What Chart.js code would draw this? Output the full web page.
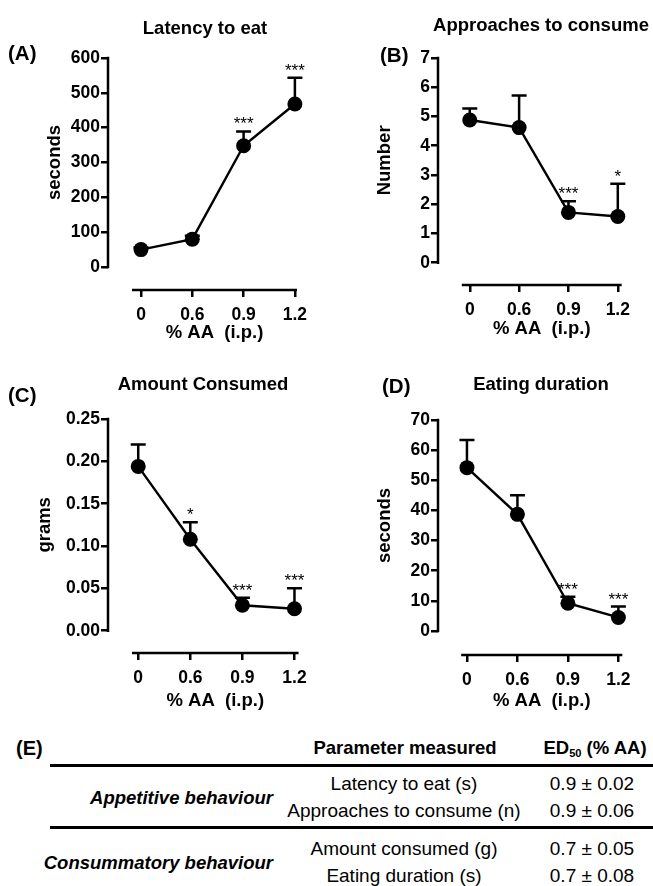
<!DOCTYPE html>
<html><head><meta charset="utf-8">
<script src="https://cdn.jsdelivr.net/npm/chart.js@4.4.1/dist/chart.umd.min.js"></script>
<style>
html,body{margin:0;padding:0;background:#fff;}
body{width:653px;height:886px;position:relative;overflow:hidden;font-family:"Liberation Sans",Arial,Helvetica,sans-serif;color:#000;}
canvas{position:absolute;}
.t{position:absolute;white-space:pre;line-height:1;transform:translate(-50%,-50%);}
.tl{transform:translate(0,-50%);}
.tr{transform:translate(-100%,-50%);}
.rule{position:absolute;height:3px;background:#000;}
sub{font-size:0.6em;vertical-align:-0.25em;line-height:0;}
</style></head><body>
<canvas id="cA" width="330" height="350" style="left:0;top:0"></canvas>
<canvas id="cB" width="323" height="350" style="left:330px;top:0"></canvas>
<canvas id="cC" width="330" height="370" style="left:0;top:350px"></canvas>
<canvas id="cD" width="323" height="370" style="left:330px;top:350px"></canvas>
<script>
// ---------------- data ----------------
const doses = ['0', '0.6', '0.9', '1.2'];

const latencyMean = [50, 80, 348, 468];
const latencySem  = [6, 10, 41, 75];
const latencySig  = ['', '', '***', '***'];
const latencyTicks = [0, 100, 200, 300, 400, 500, 600];

const approachMean = [4.88, 4.62, 1.72, 1.58];
const approachSem  = [0.39, 1.10, 0.38, 1.12];
const approachSig  = ['', '', '***', '*'];
const approachTicks = [0, 1, 2, 3, 4, 5, 6, 7];

const amountMean = [0.194, 0.108, 0.030, 0.026];
const amountSem  = [0.026, 0.020, 0.009, 0.024];
const amountSig  = ['', '*', '***', '***'];
const amountTicks = [0, 0.05, 0.10, 0.15, 0.20, 0.25];

const durationMean = [54.2, 38.7, 9.2, 4.5];
const durationSem  = [9.2, 6.3, 2.2, 3.6];
const durationSig  = ['', '', '***', '***'];
const durationTicks = [0, 10, 20, 30, 40, 50, 60, 70];

const behaviourGroups = ['Appetitive behaviour', 'Consummatory behaviour'];
const parameters = ['Latency to eat (s)', 'Approaches to consume (n)', 'Amount consumed (g)', 'Eating duration (s)'];
const ed50Values = ['0.9 \u00b1 0.02', '0.9 \u00b1 0.06', '0.7 \u00b1 0.05', '0.7 \u00b1 0.08'];

// ---------------- layout (page px) ----------------
const FONT = '"Liberation Sans", Arial, Helvetica, sans-serif';
const layouts = {
  A: {cx:0, cy:0, cw:330, ch:350, yAxisX:108, topPx:58, zeroPx:267, xAxisPx:290, cat0:141, step:51.3, lineL:132, lineR:297, xTitleY:333, yTitleX:55},
  B: {cx:330, cy:0, cw:323, ch:350, yAxisX:438, topPx:58, zeroPx:262.7, xAxisPx:285, cat0:470, step:49.7, lineL:462, lineR:623, xTitleY:329, yTitleX:385},
  C: {cx:0, cy:350, cw:330, ch:370, yAxisX:108, topPx:419, zeroPx:630.7, xAxisPx:653, cat0:138.3, step:52.2, lineL:132, lineR:299, xTitleY:701, yTitleX:45},
  D: {cx:330, cy:350, cw:323, ch:370, yAxisX:438, topPx:420, zeroPx:631, xAxisPx:655, cat0:468, step:52.3, lineL:462, lineR:629, xTitleY:701, yTitleX:385}
};

const prismPlugin = {
  id: 'prism',
  beforeDatasetsDraw(chart, args, opts) {
    const {ctx, scales: {x, y}, chartArea} = chart;
    ctx.save();
    ctx.strokeStyle = '#000';
    ctx.lineWidth = 2.5;
    ctx.lineCap = 'butt';
    ctx.beginPath();
    ctx.moveTo(chartArea.left, y.getPixelForValue(0) + 1.25);
    ctx.lineTo(chartArea.left, y.getPixelForValue(opts.yTop) - 1.25);
    ctx.moveTo(x.getPixelForValue(opts.lineL), chartArea.bottom);
    ctx.lineTo(x.getPixelForValue(opts.lineR), chartArea.bottom);
    ctx.stroke();
    ctx.beginPath();
    opts.mean.forEach((m, i) => {
      const px = x.getPixelForValue(i);
      const y1 = y.getPixelForValue(m);
      const y2 = y.getPixelForValue(m + opts.sem[i]);
      ctx.moveTo(px, y1);
      ctx.lineTo(px, y2);
      ctx.moveTo(px - 7.5, y2);
      ctx.lineTo(px + 7.5, y2);
    });
    ctx.stroke();
    ctx.restore();
  },
  afterDatasetsDraw(chart, args, opts) {
    const {ctx, scales: {x, y}} = chart;
    ctx.save();
    ctx.fillStyle = '#000';
    ctx.font = '17px ' + FONT;
    ctx.textAlign = 'center';
    ctx.textBaseline = 'alphabetic';
    opts.mean.forEach((m, i) => {
      if (!opts.sig[i]) return;
      const px = x.getPixelForValue(i);
      const y2 = y.getPixelForValue(m + opts.sem[i]);
      ctx.fillText(opts.sig[i], px, y2 - 2);
    });
    ctx.restore();
  }
};

function panel(key, mean, sem, sig, yTicks, yTitle, decimals) {
  const L = layouts[key];
  const yTop = yTicks[yTicks.length - 1];
  const ppu = (L.zeroPx - L.topPx) / yTop;
  const yMin = -(L.xAxisPx - L.zeroPx) / ppu;
  const yMax = yTop - yMin;
  const rightPx = L.lineL + L.lineR - L.yAxisX;
  const xMin = (L.yAxisX - L.cat0) / L.step;
  const xMax = (rightPx - L.cat0) / L.step;
  const yW = L.yAxisX - L.cx;
  const xH = L.cy + L.ch - L.xAxisPx;
  const padTop = (L.zeroPx + L.topPx - L.xAxisPx) - L.cy;
  const padRight = Math.max(0, L.cx + L.cw - rightPx);
  const tSize = 18.5, tLH = tSize * 1.2;
  const tickFont = {family: FONT, size: 17.5, weight: 'bold'};
  const titleFont = {family: FONT, size: tSize, weight: 'bold', lineHeight: 1.2};

  new Chart(document.getElementById('c' + key), {
    type: 'line',
    data: {
      datasets: [{
        data: mean.map((v, i) => ({x: i, y: v})),
        borderColor: '#000',
        borderWidth: 2.4,
        backgroundColor: '#000',
        pointRadius: 7.5,
        pointBorderWidth: 0,
        pointBackgroundColor: '#000',
        tension: 0,
        clip: false
      }]
    },
    options: {
      responsive: false,
      animation: false,
      devicePixelRatio: 1,
      layout: {padding: {top: padTop, left: 0, right: padRight, bottom: 0}},
      plugins: {
        legend: {display: false},
        tooltip: {enabled: false},
        prism: {mean, sem, sig, yTop, lineL: (L.lineL - L.cat0) / L.step, lineR: (L.lineR - L.cat0) / L.step}
      },
      scales: {
        x: {
          type: 'linear',
          position: 'bottom',
          min: xMin, max: xMax,
          afterBuildTicks: s => { s.ticks = doses.map((d, i) => ({value: i})); },
          afterFit: s => { s.height = xH; },
          grid: {display: true, drawOnChartArea: false, drawTicks: true, tickLength: 7, color: '#000', lineWidth: 2.5},
          border: {display: false},
          ticks: {color: '#000', font: tickFont, padding: 8, maxRotation: 0, autoSkip: false,
                  callback: v => doses[Math.round(v)]},
          title: {display: true, text: '% AA  (i.p.)', color: '#000', font: titleFont,
                  padding: {top: 0, bottom: L.cy + L.ch - tLH / 2 - L.xTitleY}}
        },
        y: {
          type: 'linear',
          position: 'left',
          min: yMin, max: yMax,
          afterBuildTicks: s => { s.ticks = yTicks.map(v => ({value: v})); },
          afterFit: s => { s.width = yW; },
          grid: {display: true, drawOnChartArea: false, drawTicks: true, tickLength: 7, color: '#000', lineWidth: 2.5},
          border: {display: false},
          ticks: {color: '#000', font: tickFont, padding: 1, autoSkip: false,
                  callback: v => Number(v).toFixed(decimals)},
          title: {display: true, text: yTitle, color: '#000', font: titleFont,
                  padding: {top: L.yTitleX - L.cx - tLH / 2, bottom: 0}}
        }
      }
    },
    plugins: [prismPlugin]
  });
}

panel('A', latencyMean, latencySem, latencySig, latencyTicks, 'seconds', 0);
panel('B', approachMean, approachSem, approachSig, approachTicks, 'Number', 0);
panel('C', amountMean, amountSem, amountSig, amountTicks, 'grams', 2);
panel('D', durationMean, durationSem, durationSig, durationTicks, 'seconds', 0);

// ---------------- titles, panel letters, table ----------------
function addText(html, x, y, size, style, align) {
  const d = document.createElement('div');
  d.className = 't' + (align === 'l' ? ' tl' : align === 'r' ? ' tr' : '');
  d.style.left = x + 'px';
  d.style.top = y + 'px';
  d.style.fontSize = size + 'px';
  if (style) d.style.cssText += style;
  d.innerHTML = html;
  document.body.appendChild(d);
}
function addRule(x1, x2, y) {
  const d = document.createElement('div');
  d.className = 'rule';
  d.style.left = x1 + 'px';
  d.style.width = (x2 - x1) + 'px';
  d.style.top = (y - 1.5) + 'px';
  document.body.appendChild(d);
}
const B = 'font-weight:bold;';
addText('Latency to eat', 205, 28, 18.5, B);
addText('(A)', 8, 53, 20.5, B, 'l');
addText('Approaches to consume', 541, 25, 18.5, B);
addText('(B)', 380, 55, 20.5, B, 'l');
addText('Amount Consumed', 203, 384, 18.5, B);
addText('(C)', 8, 395, 20.5, B, 'l');
addText('Eating duration', 541, 384, 18.5, B);
addText('(D)', 382, 386, 20.5, B, 'l');

addText('(E)', 16, 748, 20, B, 'l');
addText('Parameter measured', 405, 748, 18.5, B);
addText('ED<sub>50</sub> (% AA)', 595, 748, 18.5, B);
addRule(50, 653, 765);
addRule(50, 653, 827);
const rowY = [783, 810, 848, 875];
parameters.forEach((p, i) => addText(p, 404, rowY[i], 19, ''));
ed50Values.forEach((v, i) => addText(v, 592, rowY[i], 19, ''));
addText(behaviourGroups[0], 273, 798, 18.5, 'font-weight:bold;font-style:italic;', 'r');
addText(behaviourGroups[1], 273, 863, 18.5, 'font-weight:bold;font-style:italic;', 'r');
</script>
</body></html>
